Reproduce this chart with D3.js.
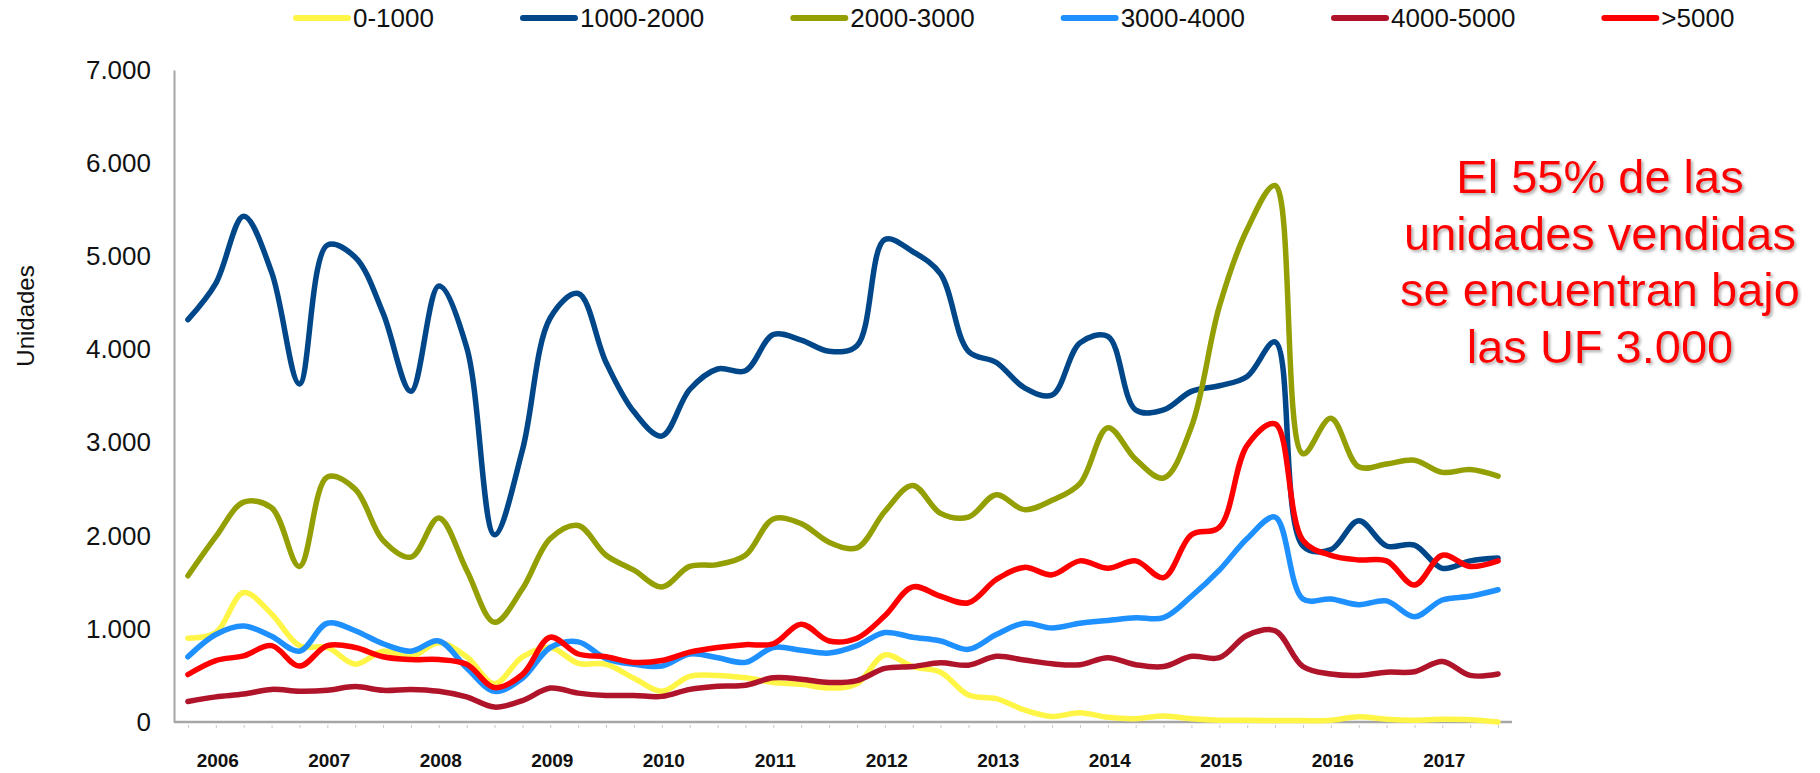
<!DOCTYPE html>
<html>
<head>
<meta charset="utf-8">
<script src="https://cdn.jsdelivr.net/npm/d3@7"></script>
<style>
  body { margin: 0; background: #fff; }
  text { font-family: "Liberation Sans", Arial, sans-serif; }
</style>
</head>
<body>
<div id="chart"></div>
<script>
// quarterly sales, 2006 Q1 .. 2017 Q4
const years = ["2006","2007","2008","2009","2010","2011","2012","2013","2014","2015","2016","2017"];
const quarters = [];
years.forEach(y => { for (let q = 1; q <= 4; q++) quarters.push(y + "-T" + q); });

const seriesNames = ["0-1000", "1000-2000", "2000-3000", "3000-4000", "4000-5000", ">5000"];
const seriesColors = ["#fff547", "#00478a", "#939f02", "#1e90ff", "#b0142a", "#ff0000"];

const s0_1000 = [900, 960, 1390, 1160, 820, 800, 620, 760,
  700, 850, 700, 410, 700, 800, 630, 620,
  470, 330, 490, 500, 475, 425, 405, 365,
  410, 720, 595, 535, 290, 250, 130, 60,
  100, 50, 36, 65, 35, 20, 20, 15,
  15, 18, 57, 29, 20, 29, 25, 0];
const s1000_2000 = [4320, 4710, 5430, 4830, 3630, 5120, 4990, 4390,
  3550, 4680, 4020, 2010, 2920, 4340, 4600, 3860,
  3330, 3070, 3570, 3790, 3770, 4160, 4100, 3980,
  4040, 5180, 5050, 4810, 3980, 3860, 3590, 3510,
  4070, 4140, 3350, 3350, 3550, 3610, 3710, 4080,
  1890, 1850, 2160, 1890, 1900, 1650, 1730, 1760];
const s2000_3000 = [1570, 1990, 2360, 2300, 1670, 2630, 2500, 1950,
  1770, 2190, 1630, 1070, 1430, 1970, 2110, 1790,
  1630, 1450, 1670, 1690, 1790, 2180, 2130, 1930,
  1870, 2260, 2540, 2240, 2200, 2440, 2280, 2380,
  2560, 3160, 2820, 2620, 3170, 4460, 5290, 5760,
  2880, 3260, 2740, 2770, 2810, 2680, 2710, 2640];
const s3000_4000 = [700, 940, 1030, 920, 760, 1060, 980, 840,
  760, 870, 580, 330, 470, 800, 860, 680,
  620, 600, 730, 690, 640, 800, 770, 740,
  820, 960, 910, 870, 780, 940, 1060, 1010,
  1060, 1090, 1120, 1120, 1350, 1630, 1970, 2200,
  1320, 1320, 1260, 1300, 1130, 1310, 1350, 1420];
const s4000_5000 = [220, 270, 300, 350, 330, 340, 380, 340,
  350, 330, 270, 160, 230, 365, 310, 285,
  285, 275, 350, 385, 395, 475, 460, 425,
  445, 575, 595, 635, 610, 705, 665, 625,
  615, 690, 615, 595, 705, 690, 930, 980,
  595, 515, 500, 535, 540, 650, 500, 515];
const s5000 = [510, 660, 710, 820, 600, 820, 800, 700,
  670, 670, 620, 370, 510, 910, 730, 700,
  640, 660, 750, 800, 830, 840, 1050, 870,
  900, 1140, 1450, 1350, 1280, 1530, 1660, 1580,
  1730, 1650, 1730, 1550, 2010, 2090, 2970, 3200,
  1950, 1790, 1740, 1730, 1470, 1790, 1670, 1730];

const yTicks = [0, 1000, 2000, 3000, 4000, 5000, 6000, 7000];
const note = ["El 55% de las", "unidades vendidas", "se encuentran bajo", "las UF 3.000"];

const allSeries = [s0_1000, s1000_2000, s2000_3000, s3000_4000, s4000_5000, s5000];

const width = 1820, height = 773;
const svg = d3.select("#chart").append("svg")
  .attr("width", width)
  .attr("height", height);

const x = d3.scalePoint()
  .domain(quarters)
  .range([174, 1512])
  .padding(0.5);

const y = d3.scaleLinear()
  .domain([0, 7000])
  .range([722, 70]);

// y axis
const yAxis = svg.append("g")
  .attr("transform", "translate(174,0)")
  .call(d3.axisLeft(y).tickValues(yTicks).tickSize(0).tickPadding(23)
    .tickFormat(d => d === 0 ? "0" : d3.format(",")(d).replace(/,/g, ".")));
yAxis.select(".domain").attr("stroke", "#a6a6a6").attr("stroke-width", 2);
yAxis.selectAll("text")
  .attr("font-size", 26)
  .attr("fill", "#111")
  .style("font-family", "'Liberation Sans', Arial, sans-serif");

// x axis
const xAxis = svg.append("g")
  .attr("transform", "translate(0,722)")
  .call(d3.axisBottom(x).tickSize(4).tickFormat(""));
xAxis.select(".domain").attr("stroke", "#a6a6a6").attr("stroke-width", 2.5)
  .attr("d", "M174,0H1512");
xAxis.selectAll(".tick line").attr("stroke", "#c8c8c8").attr("y1", 3).attr("y2", 6);

// year labels on second quarter of each year
svg.append("g").selectAll("text")
  .data(years)
  .join("text")
  .attr("x", d => x(d + "-T2") + 2)
  .attr("y", 767)
  .attr("text-anchor", "middle")
  .attr("font-size", 19)
  .attr("font-weight", "bold")
  .attr("fill", "#111")
  .text(d => d);

// y title
svg.append("text")
  .attr("transform", "translate(34,316) rotate(-90)")
  .attr("text-anchor", "middle")
  .attr("font-size", 24)
  .attr("fill", "#111")
  .text("Unidades");

// lines
const line = d3.line()
  .x((d, i) => x(quarters[i]))
  .y(d => y(d))
  .curve(d3.curveCatmullRom.alpha(0.5));

svg.append("g").selectAll("path")
  .data(allSeries)
  .join("path")
  .attr("d", d => line(d))
  .attr("fill", "none")
  .attr("stroke", (d, i) => seriesColors[i])
  .attr("stroke-width", 5.5)
  .attr("stroke-linejoin", "round")
  .attr("stroke-linecap", "round");

// legend
const legend = svg.append("g");
let lx = 296;
seriesNames.forEach((name, i) => {
  legend.append("line")
    .attr("x1", lx).attr("x2", lx + 52)
    .attr("y1", 18).attr("y2", 18)
    .attr("stroke", seriesColors[i])
    .attr("stroke-width", 6)
    .attr("stroke-linecap", "round");
  const t = legend.append("text")
    .attr("x", lx + 57)
    .attr("y", 27)
    .attr("font-size", 26)
    .attr("fill", "#111")
    .text(name);
  lx += 57 + t.node().getComputedTextLength() + 89;
});

// annotation
const defs = svg.append("defs");
defs.append("filter").attr("id", "shadow")
  .attr("x", "-10%").attr("y", "-20%").attr("width", "120%").attr("height", "140%")
  .append("feDropShadow")
  .attr("dx", 2).attr("dy", 2).attr("stdDeviation", 1.5)
  .attr("flood-color", "#777").attr("flood-opacity", 0.6);

svg.append("g").selectAll("text")
  .data(note)
  .join("text")
  .attr("x", 1600)
  .attr("y", (d, i) => 193 + i * 56.5)
  .attr("text-anchor", "middle")
  .attr("font-size", 47)
  .attr("fill", "#ff0000")
  .attr("filter", "url(#shadow)")
  .text(d => d);
</script>
</body>
</html>
